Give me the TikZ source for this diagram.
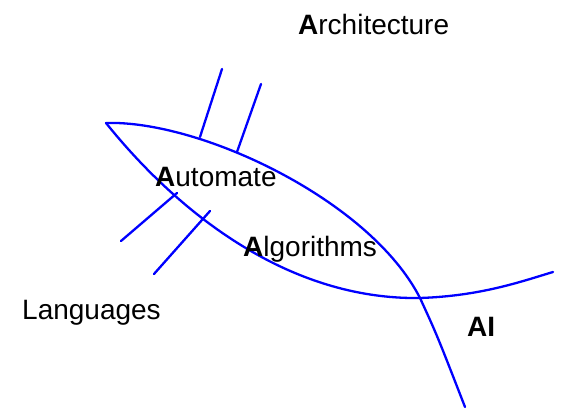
\documentclass[tikz,border=0pt]{standalone}
\usepackage{fontspec}
\setmainfont{Liberation Sans}
\definecolor{lineblue}{RGB}{0,0,255}
\begin{document}
\begin{tikzpicture}[x=1pt,y=-1pt,
  curve/.style={draw=lineblue,line width=2.3pt,line cap=round,line join=round},
  lbl/.style={anchor=base west,inner sep=0pt,font=\fontsize{28}{30}\selectfont}]
\useasboundingbox (0,0) rectangle (566,411);
% start and crossing points
\coordinate (tip) at (106,123);
\coordinate (cross) at (420,298);
\coordinate (topend) at (465,407);
\coordinate (rightend) at (553,272);
% upper curve (Architecture / AI boundary)
\draw[curve] (tip) .. controls (200,120) and (370,200) .. (cross)
  .. controls (437,335) .. (topend);
% lower curve (Languages / Algorithms boundary)
\draw[curve] (tip) .. controls (180,215) and (290,300) .. (cross)
  .. controls (480,296) and (520,282) .. (rightend);
% tick marks
\coordinate (t1a) at (222,69);  \coordinate (t1b) at (200,137);
\coordinate (t2a) at (261,84);  \coordinate (t2b) at (237,152);
\coordinate (t3a) at (177,193); \coordinate (t3b) at (121,241);
\coordinate (t4a) at (210,211); \coordinate (t4b) at (154,274);
\draw[curve] (t1a) -- (t1b);
\draw[curve] (t2a) -- (t2b);
\draw[curve] (t3a) -- (t3b);
\draw[curve] (t4a) -- (t4b);
% labels
\node[lbl] (arch) at (298,35) {\textbf{A}rchitecture};
\node[lbl] (auto) at (155,187) {\textbf{A}utomate};
\node[lbl] (algo) at (243,257) {\textbf{A}lgorithms};
\node[lbl] (lang) at (22,320) {Languages};
\node[lbl] (ai) at (467,337) {\textbf{AI}};
\end{tikzpicture}
\end{document}
